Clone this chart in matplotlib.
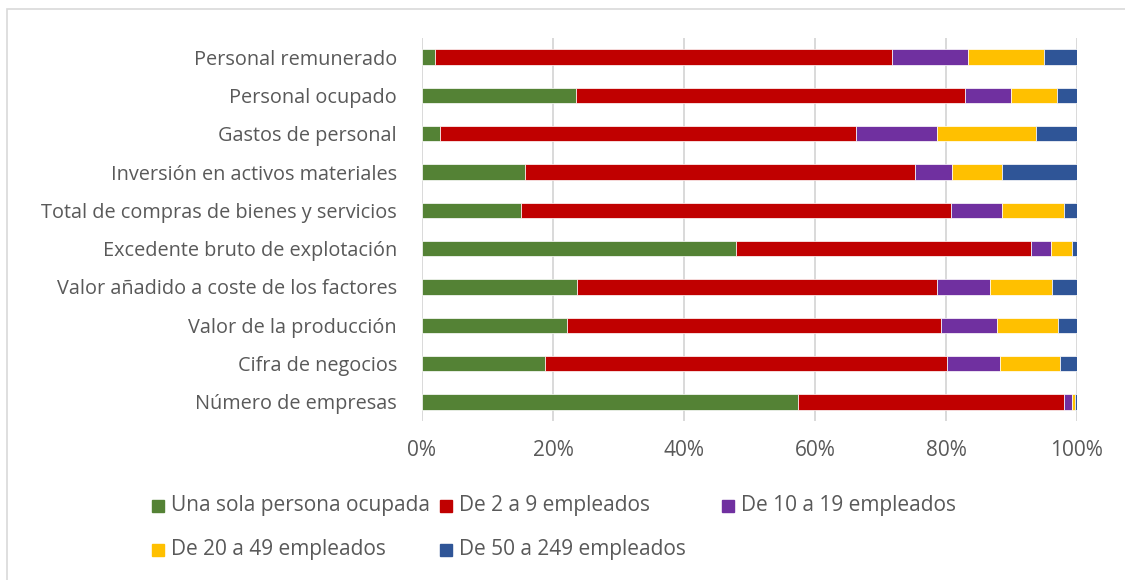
import matplotlib
matplotlib.use("Agg")
import matplotlib.pyplot as plt
from matplotlib.patches import Rectangle
import numpy as np

plt.rcParams['font.family'] = ['Open Sans', 'DejaVu Sans']

categories = [
    "Personal remunerado",
    "Personal ocupado",
    "Gastos de personal",
    "Inversión en activos materiales",
    "Total de compras de bienes y servicios",
    "Excedente bruto de explotación",
    "Valor añadido a coste de los factores",
    "Valor de la producción",
    "Cifra de negocios",
    "Número de empresas",
]
series_names = [
    "Una sola persona ocupada",
    "De 2 a 9 empleados",
    "De 10 a 19 empleados",
    "De 20 a 49 empleados",
    "De 50 a 249 empleados",
]
una_sola = [2.0, 23.5, 2.7, 15.8, 15.1, 47.9, 23.6, 22.1, 18.8, 57.4]
de_2_9 = [69.8, 59.4, 63.5, 59.5, 65.6, 45.1, 55.0, 57.2, 61.4, 40.6]
de_10_19 = [11.6, 7.0, 12.5, 5.6, 7.8, 3.0, 8.1, 8.5, 8.0, 1.3]
de_20_49 = [11.5, 7.0, 15.0, 7.6, 9.5, 3.2, 9.5, 9.3, 9.2, 0.4]
de_50_249 = [5.1, 3.1, 6.3, 11.5, 2.0, 0.8, 3.8, 2.9, 2.6, 0.3]
x_ticks = [0, 20, 40, 60, 80, 100]
x_tick_labels = ["0%", "20%", "40%", "60%", "80%", "100%"]

colors = ["#548235", "#C00000", "#7030A0", "#FFC000", "#2F5597"]
text_color = "#595959"

W, H = 1125, 580
fig = plt.figure(figsize=(W / 100, H / 100), dpi=100)
ax = fig.add_axes([422 / W, 1 - 421 / H, (1077 - 422) / W, (421 - 38) / H])

data = [una_sola, de_2_9, de_10_19, de_20_49, de_50_249]
y = np.arange(len(categories))
left = np.zeros(len(categories))
for vals, col, name in zip(data, colors, series_names):
    vals = np.array(vals, dtype=float)
    ax.barh(y, vals, left=left, height=0.4, color=col, edgecolor="white",
            linewidth=0.5, label=name, zorder=3)
    left += vals

ax.set_ylim(len(categories) - 0.5, -0.5)
ax.set_xlim(0, 100)
ax.set_yticks(y)
ax.set_yticklabels(categories, fontsize=14.3, color=text_color)
ax.set_xticks(x_ticks)
ax.set_xticklabels(x_tick_labels, fontsize=15, color=text_color)
ax.tick_params(axis="y", length=0, pad=18)
ax.tick_params(axis="x", length=0, pad=14)
for s in ax.spines.values():
    s.set_visible(False)
ax.grid(axis="x", color="#D9D9D9", linewidth=1.4, zorder=0)
ax.set_axisbelow(True)

# Chart border
fig.patches.append(Rectangle((7 / W, -0.1), 1.2, 1 - 9 / H + 0.1,
                             transform=fig.transFigure, fill=False,
                             edgecolor="#D9D9D9", linewidth=1.2))

# Legend (manual, Excel-style layout)
legend_pos = [(152, 506), (440, 506), (722, 506), (152, 550), (440, 550)]
sq = 12
for (px, py), col, name in zip(legend_pos, colors, series_names):
    fig.patches.append(Rectangle((px / W, 1 - (py + sq / 2) / H), sq / W, sq / H,
                                 transform=fig.transFigure, color=col))
    fig.text((px + 19) / W, 1 - py / H, name, fontsize=15, color=text_color,
             va="center", ha="left")

fig.savefig("out.png", dpi=100, facecolor="white")
